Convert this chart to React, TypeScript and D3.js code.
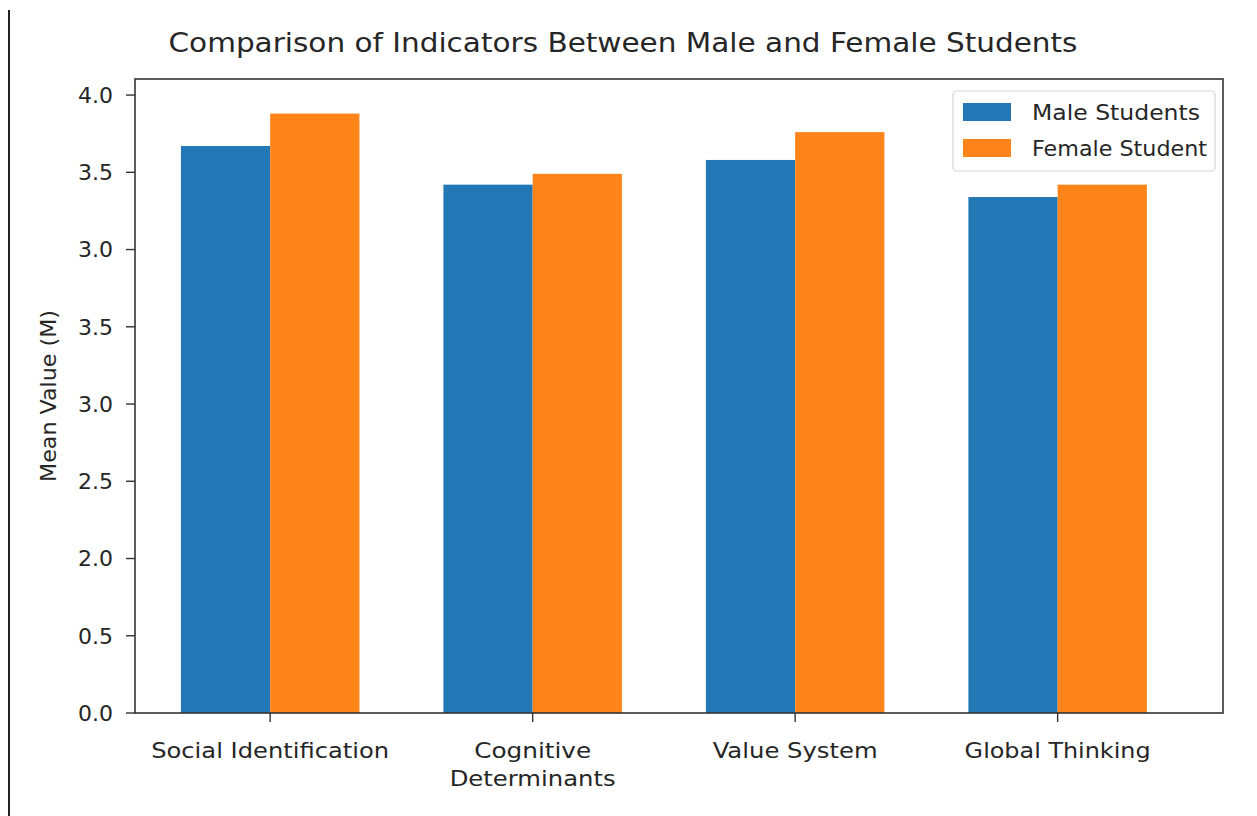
import React from "react";
import * as d3 from "d3";

const categories = ["Social Identification", "Cognitive\nDeterminants", "Value System", "Global Thinking"];
const maleValues = [3.67, 3.42, 3.58, 3.34];
const femaleValues = [3.88, 3.49, 3.76, 3.42];
const seriesNames = ["Male Students", "Female Student"];
const yTickValues = [0, 0.5, 1.0, 1.5, 2.0, 2.5, 3.0, 3.5, 4.0];
const yTickLabels = ["0.0", "0.5", "2.0", "2.5", "3.0", "3.5", "3.0", "3.5", "4.0"];
const xLabelWidths = [[238], [117, 166], [165], [186]];

const W = 1257;
const H = 816;
const plot = { left: 135, right: 1223, top: 79, bottom: 713 };
const colors = ["#2377b4", "#fd8418"];
const font = "'DejaVu Sans', sans-serif";
const textColor = "#262626";

export default function App() {
  const x = d3.scaleLinear().domain([-0.515, 3.63]).range([plot.left, plot.right]);
  const y = d3.scaleLinear().domain([0, 4.104]).range([plot.bottom, plot.top]);
  const barW = 0.34;
  const px = (v: number) => x(v) - x(0);

  return (
    <svg width={W} height={H} style={{ position: "absolute", left: 0, top: 0, background: "#fff" }}>
      <rect x={0} y={0} width={W} height={H} fill="#fff" />
      <line x1={9} x2={9} y1={10} y2={H} stroke="#222" strokeWidth={2} />
      <text x={623} y={52} textAnchor="middle" fontFamily={font} fontSize={26} fill={textColor} textLength={909} lengthAdjust="spacingAndGlyphs">
        Comparison of Indicators Between Male and Female Students
      </text>

      {categories.map((c, i) => (
        <g key={c}>
          <rect x={x(i - barW)} y={y(maleValues[i])} width={px(barW)} height={y(0) - y(maleValues[i])} fill={colors[0]} />
          <rect x={x(i)} y={y(femaleValues[i])} width={px(barW)} height={y(0) - y(femaleValues[i])} fill={colors[1]} />
        </g>
      ))}

      <rect x={plot.left} y={plot.top} width={plot.right - plot.left} height={plot.bottom - plot.top} fill="none" stroke="#333" strokeWidth={1.6} />

      {yTickValues.map((v, i) => (
        <g key={i}>
          <line x1={plot.left - 9} x2={plot.left} y1={y(v)} y2={y(v)} stroke="#333" strokeWidth={1.4} />
          <text x={plot.left - 22} y={y(v)} dy="0.36em" textAnchor="end" fontFamily={font} fontSize={22} fill={textColor}>
            {yTickLabels[i]}
          </text>
        </g>
      ))}

      {categories.map((c, i) => (
        <g key={"xt" + i}>
          <line x1={x(i)} x2={x(i)} y1={plot.bottom} y2={plot.bottom + 9} stroke="#333" strokeWidth={1.4} />
          {c.split("\n").map((line, j) => (
            <text key={j} x={x(i)} y={758 + j * 28} textAnchor="middle" fontFamily={font} fontSize={21} fill={textColor} textLength={xLabelWidths[i][j]} lengthAdjust="spacingAndGlyphs">
              {line}
            </text>
          ))}
        </g>
      ))}

      <text transform={`translate(56, ${(plot.top + plot.bottom) / 2}) rotate(-90)`} textAnchor="middle" fontFamily={font} fontSize={21} fill={textColor} textLength={172} lengthAdjust="spacingAndGlyphs">
        Mean Value (M)
      </text>

      <g>
        <rect x={953} y={91} width={262} height={80} rx={4} fill="#fff" fillOpacity={0.8} stroke="#d6d6d6" strokeWidth={1.2} />
        {seriesNames.map((s, i) => (
          <g key={s}>
            <rect x={963} y={103 + i * 36} width={48} height={18} fill={colors[i]} />
            <text x={1032} y={120 + i * 36} fontFamily={font} fontSize={21} fill={textColor} textLength={i === 0 ? 168 : 175} lengthAdjust="spacingAndGlyphs">
              {s}
            </text>
          </g>
        ))}
      </g>
    </svg>
  );
}
